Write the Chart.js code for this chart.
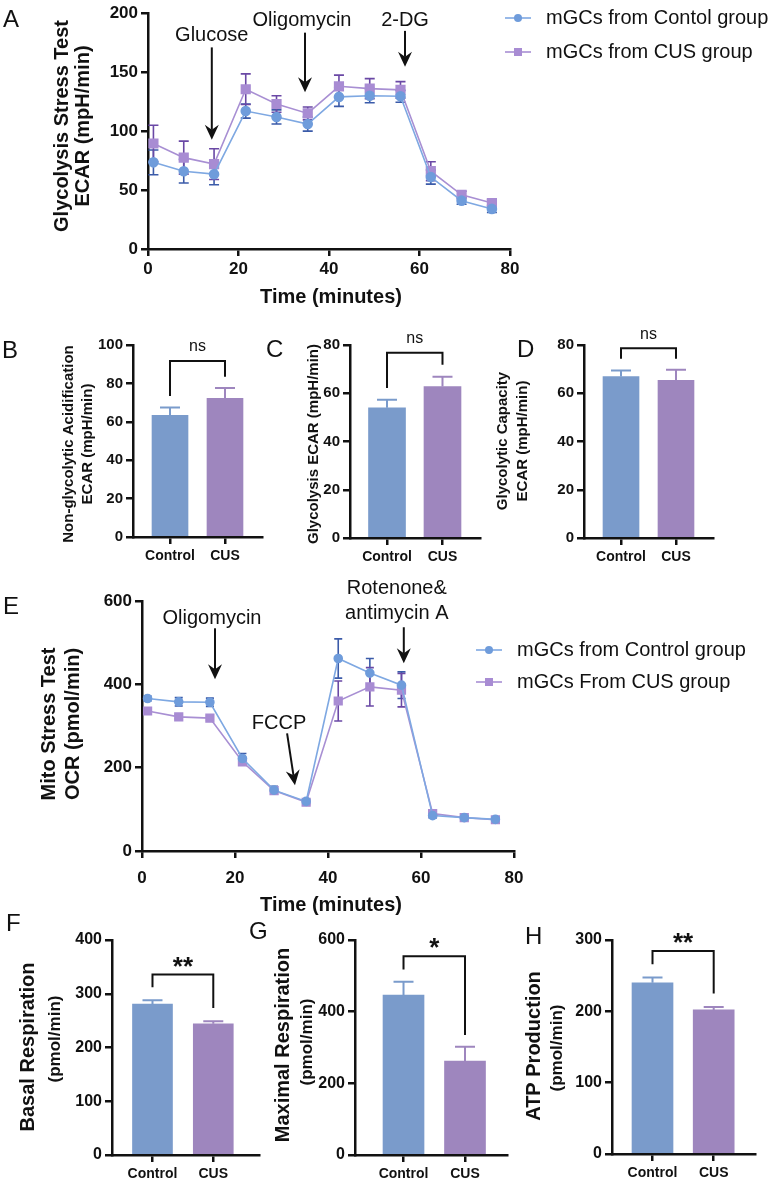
<!DOCTYPE html>
<html>
<head>
<meta charset="utf-8">
<title>Glycolysis and mito stress tests</title>
<script src="https://cdn.jsdelivr.net/npm/chart.js@4.4.1/dist/chart.umd.min.js"></script>
<style>
  body { margin: 0; background: #fff; }
  #page { position: relative; width: 773px; height: 1181px; overflow: hidden; }
  #page canvas { position: absolute; left: 0; top: 0; }
  .tag { position: absolute; font: 24px "Liberation Sans", Arial, sans-serif; line-height: 24px; color: #111; }
</style>
</head>
<body>
<div id="page">
  <canvas id="chartA" width="773" height="1181"></canvas>
  <canvas id="chartB" width="773" height="1181"></canvas>
  <canvas id="chartC" width="773" height="1181"></canvas>
  <canvas id="chartD" width="773" height="1181"></canvas>
  <canvas id="chartE" width="773" height="1181"></canvas>
  <canvas id="chartF" width="773" height="1181"></canvas>
  <canvas id="chartG" width="773" height="1181"></canvas>
  <canvas id="chartH" width="773" height="1181"></canvas>
  <div class="tag" style="left:3px;top:7px">A</div>
  <div class="tag" style="left:2px;top:338px">B</div>
  <div class="tag" style="left:266px;top:337px">C</div>
  <div class="tag" style="left:517px;top:337px">D</div>
  <div class="tag" style="left:3px;top:594px">E</div>
  <div class="tag" style="left:6px;top:911px">F</div>
  <div class="tag" style="left:249px;top:919px">G</div>
  <div class="tag" style="left:525px;top:924px">H</div>
</div>
<script>
// Seahorse measurement times (minutes)
const timeMin = [1.2, 7.9, 14.6, 21.6, 28.4, 35.3, 42.2, 49, 55.8, 62.5, 69.3, 76];

// A: glycolysis stress test, ECAR (mpH/min), mean and SEM
const ecarControl = [73.5, 66, 63.5, 117, 112, 106, 129, 130, 129.5, 61, 41, 34];
const ecarControlSem = [10.5, 10, 9, 6, 6, 6, 8, 6, 5, 6, 3, 3];
const ecarCus = [89.5, 77.5, 72, 135.5, 123, 115, 138, 136, 135, 66, 46, 39];
const ecarCusSem = [15.5, 14, 13, 13, 7, 5.5, 9.5, 8.5, 7, 8, 3, 3];

// injections in A (arrow x in minutes, arrow from/to in mpH/min)
const ecarShots = ['Glucose', 'Oligomycin', '2-DG'];
const ecarShotTime = [14.1, 34.7, 56.8];
const ecarArrowFrom = [171, 183.5, 185];
const ecarArrowTo = [92.6, 133, 154.5];

// E: mito stress test, OCR (pmol/min)
const ocrControl = [366, 358, 357, 222, 146, 119, 462, 427, 398, 85, 80, 76];
const ocrControlSem = [6, 10, 10, 12, 9, 5, 47, 35, 32, 6, 5, 4];
const ocrCus = [336, 322, 319, 214, 145, 117, 360, 394, 386, 90, 80, 75];
const ocrCusSem = [5, 5, 5, 6, 8, 5, 48, 46, 40, 6, 5, 4];

const ocrShots = [['Oligomycin'], ['FCCP'], ['Rotenone&', 'antimycin A']];
const ocrShotTime = [15.7, 31.2, 56.3];
const ocrShotTipTime = [15.7, 32.9, 56.3];
const ocrArrowFrom = [534.5, 282.5, 537];
const ocrArrowTo = [412, 158, 450.6];

// B-D, F-H: summary bars, Control vs CUS
const groups = ['Control', 'CUS'];
const nonGlyco = [63.4, 72.2], nonGlycoSem = [4.1, 5.4];
const glycolysis = [54, 62.8], glycolysisSem = [3.3, 4];
const glycoCapacity = [66.9, 65.4], glycoCapacitySem = [2.5, 4.3];
const basalResp = [281, 244], basalRespSem = [7, 5];
const maxResp = [446.5, 262.4], maxRespSem = [37, 40];
const atpProd = [240, 202], atpProdSem = [7.5, 4];

// significance brackets: [top, left leg end, right leg end] in axis units
const nonGlycoBracket = [91.7, 73.4, 83.5];
const glycolysisBracket = [76.8, 62.2, 71.8];
const glycoCapacityBracket = [78.7, 74.3, 74.3];
const basalBracket = [336, 312, 273.5];
const maxBracket = [555, 518, 335];
const atpBracket = [284.6, 266, 225];

const FONT = '"Liberation Sans", Arial, Helvetica, sans-serif';
const ink = '#111';
const W = 773, H = 1181;
const blue = { line: '#7ea8e2', marker: '#6f9cdb', err: '#3b5ba9', bar: '#7a9bcb' };
const purple = { line: '#a88fd3', marker: '#a88cd3', err: '#6a48a5', bar: '#9e86be' };

// draws SEM whiskers from dataset.sem
const errorBars = {
    id: 'errorBars',
    beforeDatasetsDraw(chart) { if (chart.config.type === 'line') drawErr(chart); },
    afterDatasetsDraw(chart) { if (chart.config.type === 'bar') drawErr(chart); }
};
Chart.register(errorBars);

function drawErr(chart) {
    const ctx = chart.ctx, y = chart.scales.y;
    chart.data.datasets.forEach((ds, i) => {
        const meta = chart.getDatasetMeta(i);
        ctx.save();
        ctx.lineWidth = ds.errWidth;
        meta.data.forEach((el, j) => {
            const v = ds.data[j].y, e = ds.sem[j];
            const top = y.getPixelForValue(v + e);
            const bot = ds.errBoth ? y.getPixelForValue(v - e) : el.y;
            const half = ds.capWidth / 2;
            ctx.strokeStyle = Array.isArray(ds.errColor) ? ds.errColor[j] : ds.errColor;
            ctx.beginPath();
            ctx.moveTo(el.x, top); ctx.lineTo(el.x, bot);
            ctx.moveTo(el.x - half, top); ctx.lineTo(el.x + half, top);
            if (ds.errBoth) { ctx.moveTo(el.x - half, bot); ctx.lineTo(el.x + half, bot); }
            ctx.stroke();
        });
        ctx.restore();
    });
}

function label(ctx, text, x, y, size, bold, rot, align) {
    ctx.save();
    ctx.translate(x, y);
    if (rot) ctx.rotate(-Math.PI / 2);
    ctx.font = (bold ? 'bold ' : '') + size + 'px ' + FONT;
    ctx.fillStyle = ink;
    ctx.textAlign = align || 'center';
    ctx.textBaseline = 'middle';
    ctx.fillText(text, 0, 0);
    ctx.restore();
}

function arrow(ctx, x1, y1, x2, y2) {
    const a = Math.atan2(y2 - y1, x2 - x1), c = Math.cos(a), s = Math.sin(a);
    const hl = 15, hw = 7;
    ctx.save();
    ctx.strokeStyle = ink; ctx.fillStyle = ink; ctx.lineWidth = 2;
    ctx.beginPath();
    ctx.moveTo(x1, y1); ctx.lineTo(x2 - 10 * c, y2 - 10 * s);
    ctx.stroke();
    ctx.beginPath();
    ctx.moveTo(x2, y2);
    ctx.lineTo(x2 - hl * c - hw * s, y2 - hl * s + hw * c);
    ctx.lineTo(x2 - 10 * c, y2 - 10 * s);
    ctx.lineTo(x2 - hl * c + hw * s, y2 - hl * s - hw * c);
    ctx.closePath();
    ctx.fill();
    ctx.restore();
}

function legendItem(ctx, ds, x, y, text) {
    ctx.save();
    ctx.strokeStyle = ds.borderColor; ctx.lineWidth = 1.6;
    ctx.beginPath(); ctx.moveTo(x, y); ctx.lineTo(x + 26, y); ctx.stroke();
    ctx.fillStyle = ds.pointBackgroundColor;
    if (ds.pointStyle === 'rect') ctx.fillRect(x + 9, y - 4, 8, 8);
    else { ctx.beginPath(); ctx.arc(x + 13, y, 4, 0, Math.PI * 2); ctx.fill(); }
    ctx.restore();
    label(ctx, text, x + 41, y, 20, false, false, 'left');
}

function frame(area, yW, xH) {
    return { autoPadding: false,
        padding: { left: area.l - yW, top: area.t, right: W - area.r, bottom: H - area.b - xH } };
}

function axisStyle(size, tickLen, pad) {
    return {
        ticks: { color: ink, font: { family: FONT, size: size, weight: 'bold' }, padding: pad, maxRotation: 0, autoSkip: false },
        grid: { drawOnChartArea: false, drawTicks: true, tickLength: tickLen, color: ink, lineWidth: 2.5 },
        border: { display: true, color: ink, width: 2.5 }
    };
}

function yAxis(max, step, size) {
    const a = axisStyle(size, 7, 3);
    a.min = 0; a.max = max; a.ticks.stepSize = step;
    a.afterFit = s => { s.width = 50; };
    return a;
}

function xTime(size, pad) {
    const a = axisStyle(size, 7, pad);
    a.type = 'linear'; a.min = 0; a.max = 80; a.ticks.stepSize = 20;
    a.afterFit = s => { s.height = 40; };
    return a;
}

function xGroups(min, max, size) {
    const a = axisStyle(size, 7, 4);
    a.type = 'linear'; a.min = min; a.max = max;
    a.offset = false; a.bounds = 'data'; a.grid.offset = false;
    a.afterBuildTicks = s => { s.ticks = groups.map((g, i) => ({ value: i + 1 })); };
    a.ticks.callback = v => groups[Math.round(v) - 1];
    a.afterFit = s => { s.height = 40; };
    return a;
}

function series(name, ys, sem, col, style, r, cap) {
    return {
        label: name,
        data: timeMin.map((t, i) => ({ x: t, y: ys[i] })),
        sem: sem, errColor: col.err, errWidth: 1.6, capWidth: cap, errBoth: true,
        borderColor: col.line, backgroundColor: col.marker,
        pointBackgroundColor: col.marker, pointBorderColor: col.marker,
        pointStyle: style, pointRadius: r, borderWidth: 1.6, tension: 0, clip: false
    };
}

function lineChart(id, o) {
    return new Chart(document.getElementById(id), {
        type: 'line',
        data: { datasets: [
            series(o.names[0], o.control, o.controlSem, blue, 'circle', o.r, o.cap),
            series(o.names[1], o.cus, o.cusSem, purple, 'rect', o.r * 1.35, o.cap)
        ] },
        options: {
            responsive: false, animation: false, events: [], devicePixelRatio: 1,
            layout: frame(o.area, 50, 40),
            plugins: { legend: { display: false }, tooltip: { enabled: false } },
            scales: { x: xTime(17, o.xPad), y: yAxis(o.yMax, o.yStep, 17) }
        },
        plugins: [{ id: 'deco', afterDraw: c => o.draw(c, c.ctx) }]
    });
}

function barChart(id, o) {
    return new Chart(document.getElementById(id), {
        type: 'bar',
        data: { datasets: [{
            data: o.values.map((v, i) => ({ x: i + 1, y: v })),
            sem: o.sem, errColor: [blue.bar, purple.bar], errWidth: 2, capWidth: 20, errBoth: false,
            backgroundColor: [blue.bar, purple.bar], barThickness: o.barW
        }] },
        options: {
            responsive: false, animation: false, events: [], devicePixelRatio: 1,
            layout: frame(o.area, 50, 40),
            plugins: { legend: { display: false }, tooltip: { enabled: false } },
            scales: { x: xGroups(o.xMin, o.xMax, 14), y: yAxis(o.yMax, o.yStep, o.tickSize) }
        },
        plugins: [{ id: 'deco', afterDraw: c => drawBarDeco(c, o) }]
    });
}

function drawBarDeco(chart, o) {
    const ctx = chart.ctx, y = chart.scales.y, bars = chart.getDatasetMeta(0).data;
    const x1 = bars[0].x, x2 = bars[1].x, top = y.getPixelForValue(o.bracket[0]);
    ctx.save();
    ctx.strokeStyle = ink; ctx.lineWidth = 2;
    ctx.beginPath();
    ctx.moveTo(x1, y.getPixelForValue(o.bracket[1]));
    ctx.lineTo(x1, top); ctx.lineTo(x2, top);
    ctx.lineTo(x2, y.getPixelForValue(o.bracket[2]));
    ctx.stroke();
    ctx.restore();
    const star = o.sig !== 'ns';
    label(ctx, o.sig, (x1 + x2) / 2, top - 14 + (star ? 7 : 0), star ? 26 : 16, star);
    o.titles.forEach(t => label(ctx, t[0], t[1], t[2], t[3], true, true));
}

// A
lineChart('chartA', {
    names: ['mGCs from Contol group', 'mGCs from CUS group'],
    control: ecarControl, controlSem: ecarControlSem, cus: ecarCus, cusSem: ecarCusSem,
    area: { l: 148, t: 7, r: 510, b: 249 }, yMax: 200, yStep: 50, xPad: 3, r: 4.5, cap: 10,
    draw(chart, ctx) {
        const x = chart.scales.x, y = chart.scales.y, ds = chart.data.datasets;
        ecarShots.forEach((name, i) => {
            const px = x.getPixelForValue(ecarShotTime[i]);
            const top = y.getPixelForValue(ecarArrowFrom[i]);
            arrow(ctx, px, top, px, y.getPixelForValue(ecarArrowTo[i]));
            label(ctx, name, px - (i === 1 ? 3 : 0), top - (i === 2 ? 10 : 12), 20, false);
        });
        label(ctx, 'Glycolysis Stress Test', 62, 126, 20, true, true);
        label(ctx, 'ECAR (mpH/min)', 83, 126, 20, true, true);
        label(ctx, 'Time (minutes)', 331, 297, 20, true);
        legendItem(ctx, ds[0], 505, 18, ds[0].label);
        legendItem(ctx, ds[1], 505, 52, ds[1].label);
    }
});

// E
lineChart('chartE', {
    names: ['mGCs from Control group', 'mGCs From CUS group'],
    control: ocrControl, controlSem: ocrControlSem, cus: ocrCus, cusSem: ocrCusSem,
    area: { l: 142, t: 601, r: 514, b: 851 }, yMax: 600, yStep: 200, xPad: 10, r: 4, cap: 8,
    draw(chart, ctx) {
        const x = chart.scales.x, y = chart.scales.y, ds = chart.data.datasets;
        ocrShots.forEach((lines, i) => {
            const x1 = x.getPixelForValue(ocrShotTime[i]);
            const top = y.getPixelForValue(ocrArrowFrom[i]);
            arrow(ctx, x1, top, x.getPixelForValue(ocrShotTipTime[i]), y.getPixelForValue(ocrArrowTo[i]));
            if (lines.length === 1) label(ctx, lines[0], x1 - (i === 0 ? 3 : 8), top - 10, 20, false);
            else {
                label(ctx, lines[0], x1 - 7, top - 39, 20, false);
                label(ctx, lines[1], x1 - 7, top - 14, 20, false);
            }
        });
        label(ctx, 'Mito Stress Test', 49, 724, 20, true, true);
        label(ctx, 'OCR (pmol/min)', 73, 724, 20, true, true);
        label(ctx, 'Time (minutes)', 331, 905, 20, true);
        legendItem(ctx, ds[0], 476, 650, ds[0].label);
        legendItem(ctx, ds[1], 476, 682, ds[1].label);
    }
});

// B, C, D
barChart('chartB', {
    values: nonGlyco, sem: nonGlycoSem, bracket: nonGlycoBracket, sig: 'ns',
    area: { l: 133, t: 345, r: 262, b: 537 }, xMin: 0.327, xMax: 2.673, barW: 36,
    yMax: 100, yStep: 20, tickSize: 15,
    titles: [['Non-glycolytic Acidification', 69, 444, 15], ['ECAR (mpH/min)', 88, 444, 15]]
});
barChart('chartC', {
    values: glycolysis, sem: glycolysisSem, bracket: glycolysisBracket, sig: 'ns',
    area: { l: 350, t: 345, r: 480, b: 538 }, xMin: 0.333, xMax: 2.676, barW: 37,
    yMax: 80, yStep: 20, tickSize: 15,
    titles: [['Glycolysis ECAR (mpH/min)', 314, 444, 15]]
});
barChart('chartD', {
    values: glycoCapacity, sem: glycoCapacitySem, bracket: glycoCapacityBracket, sig: 'ns',
    area: { l: 584, t: 345, r: 713, b: 538 }, xMin: 0.327, xMax: 2.673, barW: 36,
    yMax: 80, yStep: 20, tickSize: 15,
    titles: [['Glycolytic Capacity', 503, 441, 15], ['ECAR (mpH/min)', 523, 441, 15]]
});

// F, G, H
barChart('chartF', {
    values: basalResp, sem: basalRespSem, bracket: basalBracket, sig: '**',
    area: { l: 112, t: 940, r: 259, b: 1155 }, xMin: 0.334, xMax: 2.752, barW: 40,
    yMax: 400, yStep: 100, tickSize: 16,
    titles: [['Basal Respiration', 28, 1047, 20], ['(pmol/min)', 55, 1039, 17]]
});
barChart('chartG', {
    values: maxResp, sem: maxRespSem, bracket: maxBracket, sig: '*',
    area: { l: 355, t: 940, r: 507, b: 1155 }, xMin: 0.211, xMax: 2.683, barW: 41,
    yMax: 600, yStep: 200, tickSize: 16,
    titles: [['Maximal Respiration', 283, 1045, 20], ['(pmol/min)', 307, 1042, 17]]
});
barChart('chartH', {
    values: atpProd, sem: atpProdSem, bracket: atpBracket, sig: '**',
    area: { l: 612, t: 940, r: 755, b: 1154 }, xMin: 0.338, xMax: 2.675, barW: 41,
    yMax: 300, yStep: 100, tickSize: 16,
    titles: [['ATP Production', 534, 1046, 20], ['(pmol/min)', 557, 1048, 17]]
});
</script>
</body>
</html>
